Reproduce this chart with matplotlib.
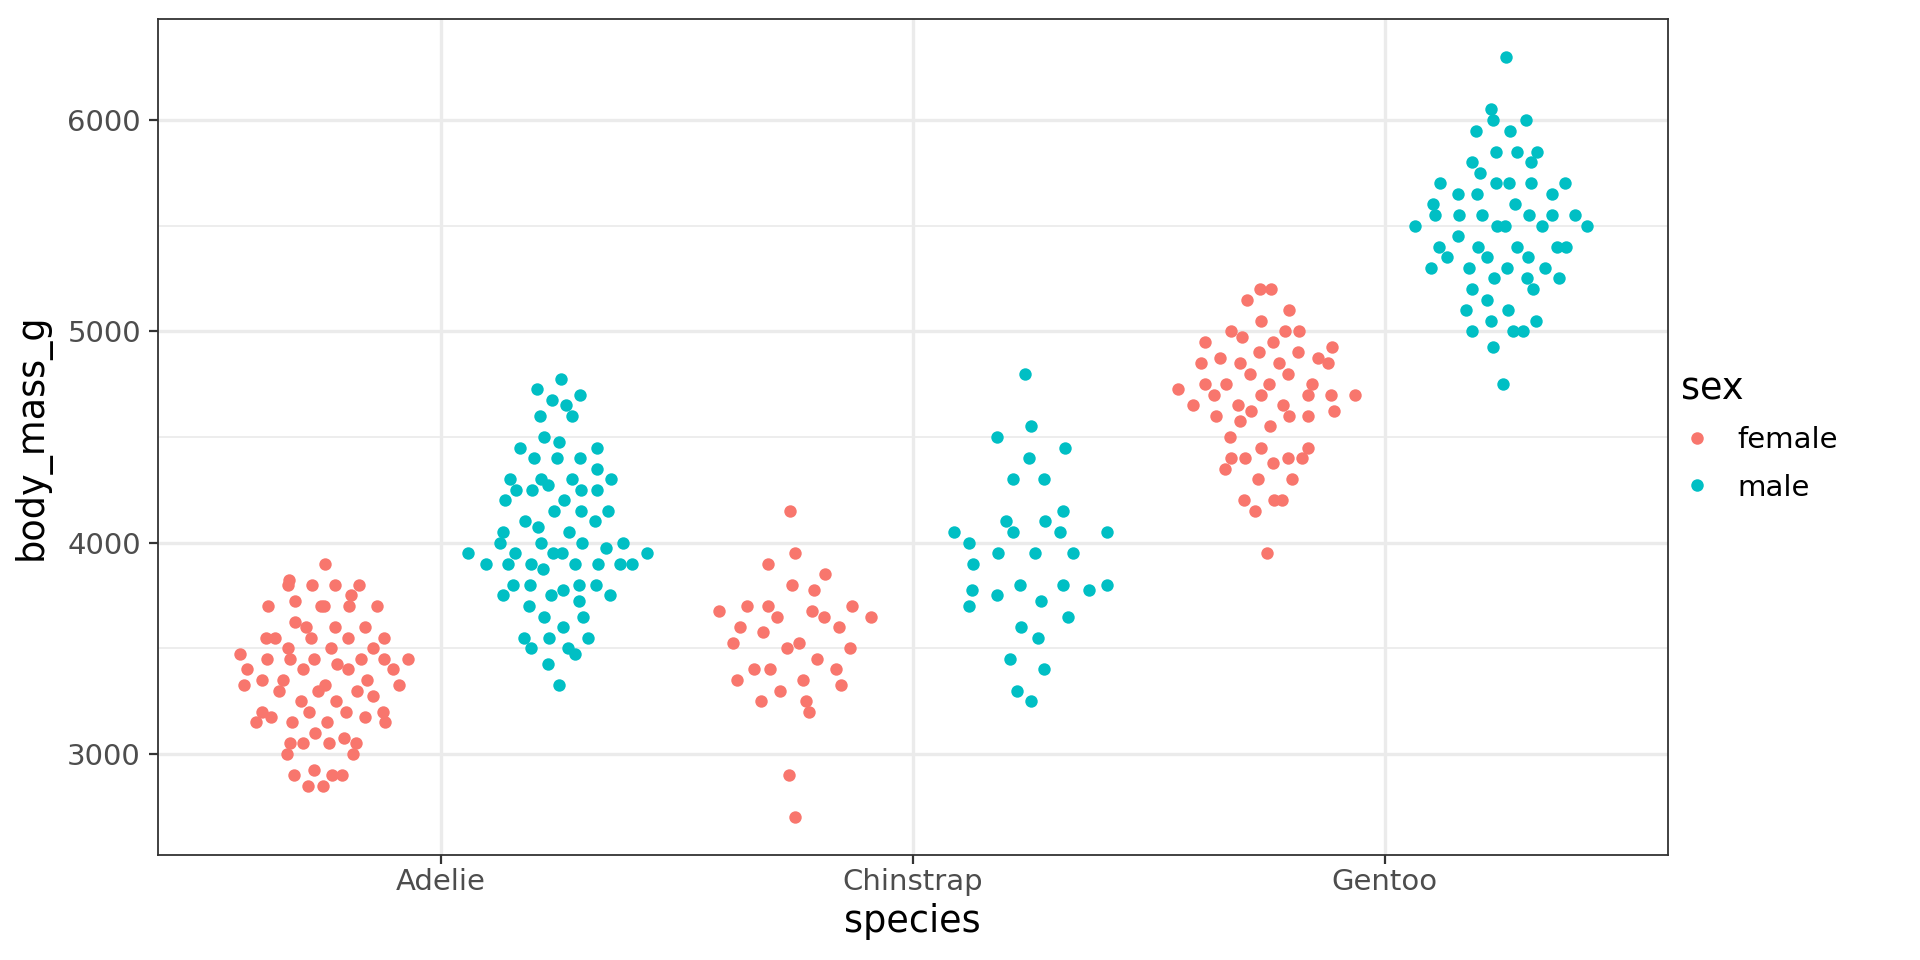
import numpy as np
import matplotlib
matplotlib.use("Agg")
import matplotlib.pyplot as plt
from matplotlib.lines import Line2D

# ---------------- data (body_mass_g, in row order within each group) ----------------
species = ["Adelie", "Chinstrap", "Gentoo"]
sexes = ["female", "male"]
colors = {"female": "#F8766D", "male": "#00BFC4"}

adelie_female = [3800, 3250, 3450, 3625, 3200, 3700, 3450, 3325, 3400, 3800, 3800, 3200, 3150,
                 3250, 3300, 3325, 3550, 3300, 3150, 3100, 3000, 3450, 3500, 3450, 2900, 3550,
                 2850, 3150, 3600, 2850, 3350, 3050, 3600, 3550, 3700, 3700, 3550, 3200, 3800,
                 3350, 3500, 3600, 3550, 3400, 3300, 3700, 2900, 3725, 3075, 2925, 3750, 3175,
                 3825, 3200, 3900, 2900, 3350, 3150, 3450, 3050, 3275, 3050, 3325, 3500, 3425,
                 3175, 3400, 3400, 3050, 3000, 3475, 3450, 3700]
adelie_male = [3750, 3650, 4675, 3800, 4400, 4500, 4200, 3600, 3950, 3800, 3550, 3950, 3900,
               3900, 4150, 3950, 4650, 3900, 4400, 4600, 3425, 4150, 4300, 4050, 3700, 3800,
               3750, 4400, 4050, 3950, 4100, 4450, 3900, 4150, 4250, 3900, 4000, 4700, 4200,
               3550, 3800, 3950, 4300, 4450, 4300, 4350, 4100, 4725, 4250, 3550, 3900, 4775,
               4600, 4275, 4075, 3775, 3325, 3500, 3875, 4000, 4300, 4000, 3500, 4475, 3900,
               3975, 4250, 3475, 3725, 3650, 4250, 3750, 4000]
chinstrap_female = [3500, 3525, 3950, 3250, 4150, 3800, 3700, 3575, 3700, 3450, 3600, 2900,
                    3300, 3400, 3700, 3200, 3350, 3900, 3850, 2700, 3650, 3500, 3675, 3400,
                    3675, 3325, 3600, 3350, 3250, 3525, 3650, 3650, 3400, 3775]
chinstrap_male = [3900, 3650, 3725, 3750, 3700, 3775, 4050, 4050, 3300, 4400, 3400, 3800,
                  4150, 3800, 4550, 4300, 4100, 3600, 4800, 4500, 3950, 3550, 4450, 4300,
                  3250, 3950, 4050, 3450, 4050, 3800, 3950, 4000, 3775, 4100]
gentoo_female = [4500, 4450, 4550, 4800, 4400, 4650, 4650, 4200, 4150, 4800, 5000, 4400, 5000,
                 4600, 4700, 5050, 5150, 4950, 4350, 3950, 4300, 4900, 4200, 5100, 4850, 4400,
                 4900, 4300, 4450, 4200, 4400, 4700, 4700, 4750, 5200, 4700, 4600, 4750, 4625,
                 4725, 4750, 4600, 4875, 4950, 4750, 4850, 4875, 4625, 4850, 4975, 4700, 4575,
                 5000, 4650, 4375, 4925, 4850, 5200]
gentoo_male = [5700, 5700, 5400, 5200, 5150, 5550, 5850, 5850, 6300, 5350, 5700, 5050, 5100,
               5650, 5550, 5250, 6050, 5400, 5250, 5350, 5700, 4750, 5550, 5400, 5300, 5300,
               5000, 5050, 5000, 5550, 5300, 5650, 5700, 5800, 5550, 5000, 5100, 5800, 6000,
               5950, 5450, 5350, 5600, 5300, 5550, 5400, 5650, 5200, 4925, 5250, 5600, 5500,
               5500, 5500, 5500, 5950, 5500, 5850, 6000, 5750, 5400]

groups = {
    ("Adelie", "female"): adelie_female, ("Adelie", "male"): adelie_male,
    ("Chinstrap", "female"): chinstrap_female, ("Chinstrap", "male"): chinstrap_male,
    ("Gentoo", "female"): gentoo_female, ("Gentoo", "male"): gentoo_male,
}

yticks = [3000, 4000, 5000, 6000]
yminor = [3500, 4500, 5500]

# ---------------- quasirandom offsets (vipor-like) ----------------
DODGE_WIDTH = 1.0
QR_WIDTH = 0.2
BANDWIDTH_ADJ = 0.5


def van_der_corput(n, base=2):
    out = []
    for k in range(1, n + 1):
        v, denom, x = 0.0, 1.0, k
        while x > 0:
            x, rem = divmod(x, base)
            denom *= base
            v += rem / denom
        out.append(v)
    return np.array(out)


def bw_nrd0(y):
    y = np.asarray(y, float)
    hi = np.std(y, ddof=1)
    q75, q25 = np.percentile(y, [75, 25])
    lo = min(hi, (q75 - q25) / 1.34)
    if lo == 0:
        lo = hi if hi else 1.0
    return 0.9 * lo * len(y) ** (-0.2)


def quasi_offsets(y, adjust=0.5, nbins=1024):
    y = np.asarray(y, float)
    n = len(y)
    bw = adjust * bw_nrd0(y)
    grid = np.linspace(y.min() - 3 * bw, y.max() + 3 * bw, nbins)
    dens = np.exp(-0.5 * ((grid[:, None] - y[None, :]) / bw) ** 2).sum(axis=1)
    dens = dens / dens.max()
    d_at = np.interp(y, grid, dens)
    ranks = np.empty(n, int)
    ranks[np.argsort(y, kind="stable")] = np.arange(n)
    vdc = van_der_corput(n)[ranks]
    return (vdc - 0.5) * 2 * d_at


# ---------------- figure ----------------
W, H = 1920, 960
fig = plt.figure(figsize=(W / 100, H / 100), dpi=100, facecolor="white")
px_l, px_r, px_t, px_b = 157.5, 1667.7, 18.5, 855.4
ax = fig.add_axes([px_l / W, 1 - px_b / H, (px_r - px_l) / W, (px_b - px_t) / H])
ax.set_facecolor("white")

for si, sp in enumerate(species):
    for gi, sx in enumerate(sexes):
        vals = np.asarray(groups[(sp, sx)], float)
        center = (si + 1) + DODGE_WIDTH * ((gi + 0.5) / 2 - 0.5)
        xs = center + quasi_offsets(vals, BANDWIDTH_ADJ) * QR_WIDTH
        ax.scatter(xs, vals, s=80, color=colors[sx], linewidths=0, zorder=3)

ax.set_xlim(0.4, 3.6)
ax.set_ylim(2520, 6480)
ax.set_xticks([1, 2, 3])
ax.set_xticklabels(species)
ax.set_yticks(yticks)
ax.set_yticks(yminor, minor=True)

ax.grid(which="major", axis="both", color="#EBEBEB", linewidth=2.4, zorder=0)
ax.grid(which="minor", axis="y", color="#EBEBEB", linewidth=1.25, zorder=0)
ax.set_axisbelow(True)

for sp_ in ax.spines.values():
    sp_.set_color("#333333")
    sp_.set_linewidth(1.3)

ax.tick_params(which="major", length=6.6, width=1.6, color="#333333",
               labelsize=21, labelcolor="#4D4D4D", pad=5.3)
ax.tick_params(axis="x", which="major", pad=2.8)
ax.tick_params(which="minor", length=0)

ax.set_xlabel("species", fontsize=26.4, color="black", labelpad=4.5)
ax.set_ylabel("body_mass_g", fontsize=26.4, color="black", labelpad=12)

leg_handles = [Line2D([], [], marker="o", linestyle="", markersize=9, markeredgewidth=0,
                      color=colors[s]) for s in sexes]
leg = fig.legend(leg_handles, sexes, title="sex", loc="center left",
                 bbox_to_anchor=(1681 / W, 0.546), frameon=False, fontsize=21,
                 title_fontsize=26.4, alignment="left", borderpad=0, borderaxespad=0,
                 handlelength=1.1, handletextpad=0.85, labelspacing=0.66)

fig.savefig("out.png", dpi=100, facecolor="white")
